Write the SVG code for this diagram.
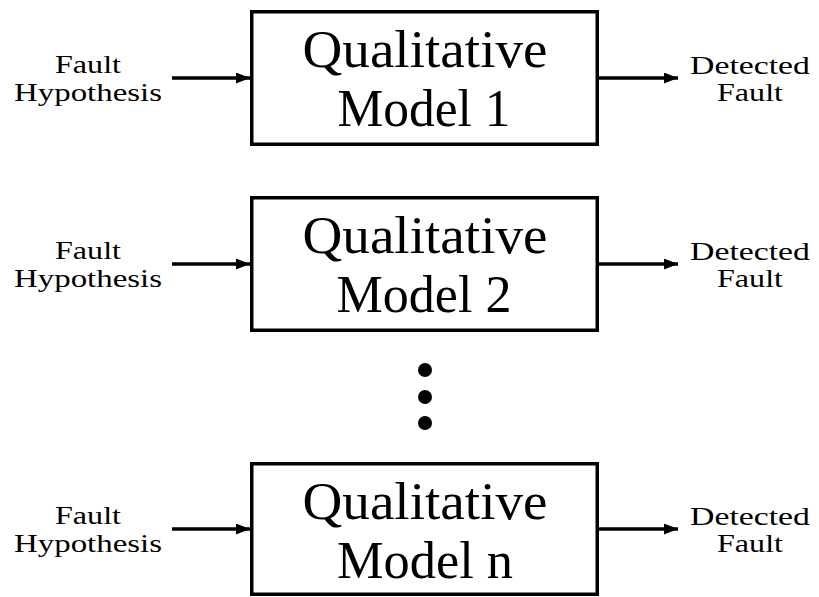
<svg xmlns="http://www.w3.org/2000/svg" width="819" height="597" viewBox="0 0 819 597">
  <style>
    .box { fill: #ffffff; stroke: #000000; stroke-width: 3.5; }
    .big { font-family: "Liberation Serif", "DejaVu Serif", serif; font-size: 52px; fill: #000; text-anchor: middle; }
    .small { font-family: "Liberation Serif", "DejaVu Serif", serif; font-size: 26px; fill: #000; text-anchor: middle; }
    .conn { stroke: #000; stroke-width: 3.5; fill: none; marker-end: url(#arrow); }
    .dot { fill: #000; }
  </style>
  <defs>
    <marker id="arrow" markerUnits="userSpaceOnUse" markerWidth="14" markerHeight="11" refX="14" refY="5.5" orient="auto">
      <path d="M0,0 L14,5.5 L0,11 Z" fill="#000"/>
    </marker>
  </defs>
  <rect width="819" height="597" fill="#ffffff"/>

  <g id="connectors">
    <line class="conn" x1="172" y1="78" x2="250" y2="78"/>
    <line class="conn" x1="599" y1="78" x2="678" y2="78"/>
    <line class="conn" x1="172" y1="264" x2="250" y2="264"/>
    <line class="conn" x1="599" y1="264" x2="678" y2="264"/>
    <line class="conn" x1="172" y1="529" x2="250" y2="529"/>
    <line class="conn" x1="599" y1="529" x2="678" y2="529"/>
  </g>

  <g id="model1">
    <rect class="box" x="251.75" y="11.75" width="345.5" height="132.5"/>
    <text class="big" x="425" y="67" textLength="245" lengthAdjust="spacingAndGlyphs">Qualitative</text>
    <text class="big" x="424" y="126" textLength="173" lengthAdjust="spacingAndGlyphs">Model 1</text>
  </g>
  <g id="model2">
    <rect class="box" x="251.75" y="197.75" width="345.5" height="132.5"/>
    <text class="big" x="425" y="253" textLength="245" lengthAdjust="spacingAndGlyphs">Qualitative</text>
    <text class="big" x="424" y="312" textLength="175" lengthAdjust="spacingAndGlyphs">Model 2</text>
  </g>
  <g id="modeln">
    <rect class="box" x="251.75" y="463.75" width="345.5" height="130.5"/>
    <text class="big" x="425" y="519" textLength="245" lengthAdjust="spacingAndGlyphs">Qualitative</text>
    <text class="big" x="425" y="578" textLength="176" lengthAdjust="spacingAndGlyphs">Model n</text>
  </g>

  <g id="ellipsis">
    <circle class="dot" cx="425" cy="370" r="7"/>
    <circle class="dot" cx="425" cy="397" r="7"/>
    <circle class="dot" cx="425" cy="423" r="7"/>
  </g>

  <g id="input1">
    <text class="small" x="88" y="73" textLength="66" lengthAdjust="spacingAndGlyphs">Fault</text>
    <text class="small" x="88" y="101" textLength="148" lengthAdjust="spacingAndGlyphs">Hypothesis</text>
  </g>
  <g id="output1">
    <text class="small" x="750" y="74" textLength="120" lengthAdjust="spacingAndGlyphs">Detected</text>
    <text class="small" x="750" y="101" textLength="66" lengthAdjust="spacingAndGlyphs">Fault</text>
  </g>
  <g id="input2">
    <text class="small" x="88" y="259" textLength="66" lengthAdjust="spacingAndGlyphs">Fault</text>
    <text class="small" x="88" y="287" textLength="148" lengthAdjust="spacingAndGlyphs">Hypothesis</text>
  </g>
  <g id="output2">
    <text class="small" x="750" y="260" textLength="120" lengthAdjust="spacingAndGlyphs">Detected</text>
    <text class="small" x="750" y="287" textLength="66" lengthAdjust="spacingAndGlyphs">Fault</text>
  </g>
  <g id="inputn">
    <text class="small" x="88" y="524" textLength="66" lengthAdjust="spacingAndGlyphs">Fault</text>
    <text class="small" x="88" y="552" textLength="148" lengthAdjust="spacingAndGlyphs">Hypothesis</text>
  </g>
  <g id="outputn">
    <text class="small" x="750" y="525" textLength="120" lengthAdjust="spacingAndGlyphs">Detected</text>
    <text class="small" x="750" y="552" textLength="66" lengthAdjust="spacingAndGlyphs">Fault</text>
  </g>
</svg>
